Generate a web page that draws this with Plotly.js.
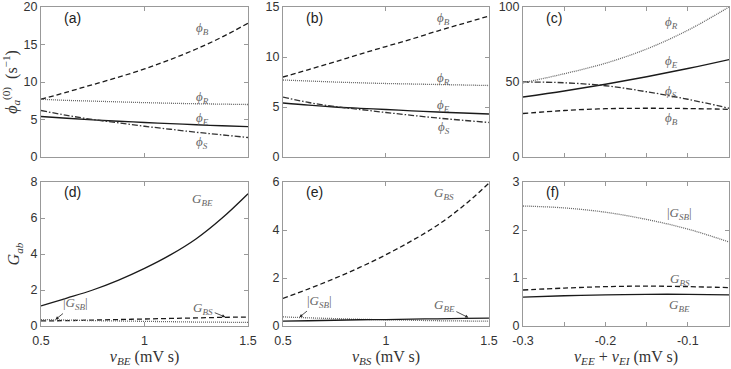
<!DOCTYPE html>
<html>
<head>
<meta charset="utf-8">
<script src="https://cdn.plot.ly/plotly-3.0.1.min.js"></script>
<style>body{margin:0;background:#fff}</style>
</head>
<body>
<div id="myDiv" style="width:731px;height:369px"></div>
<script>
// x grids
var nuBE = [0.5, 0.625, 0.75, 0.875, 1, 1.125, 1.25, 1.375, 1.5];
var nuBS = [0.5, 0.625, 0.75, 0.875, 1, 1.125, 1.25, 1.375, 1.5];
var nuEE = [-0.3, -0.25, -0.2, -0.15, -0.1, -0.05];

// (a) steady-state rates vs nu_BE
var phiB_a = [7.7, 8.65, 9.65, 10.65, 11.75, 13.0, 14.4, 16.0, 17.85];
var phiR_a = [7.7, 7.55, 7.45, 7.35, 7.25, 7.17, 7.1, 7.05, 7.0];
var phiE_a = [5.4, 5.17, 4.95, 4.77, 4.6, 4.45, 4.3, 4.17, 4.05];
var phiS_a = [6.2, 5.55, 5.0, 4.55, 4.1, 3.7, 3.3, 2.95, 2.6];

// (b) vs nu_BS
var phiB_b = [8.0, 8.75, 9.5, 10.3, 11.05, 11.8, 12.6, 13.35, 14.1];
var phiR_b = [7.7, 7.6, 7.5, 7.42, 7.35, 7.3, 7.25, 7.2, 7.15];
var phiE_b = [5.4, 5.18, 5.0, 4.87, 4.75, 4.62, 4.5, 4.4, 4.3];
var phiS_b = [6.0, 5.45, 5.05, 4.75, 4.45, 4.17, 3.9, 3.67, 3.45];

// (c) vs nu_EE + nu_EI
var phiR_c = [49.5, 55.5, 62.5, 72, 84.5, 100];
var phiE_c = [40, 44, 48.5, 53.5, 59, 65];
var phiS_c = [50, 49.5, 47.5, 43.5, 38.5, 32.5];
var phiB_c = [29, 31, 32.2, 32.5, 32.3, 31.8];

// (d) gains vs nu_BE
var GBE_d = [1.12, 1.55, 2.0, 2.55, 3.2, 3.95, 4.85, 6.0, 7.35];
var GBS_d = [0.28, 0.3, 0.33, 0.36, 0.39, 0.42, 0.45, 0.48, 0.5];
var GSB_d = [0.36, 0.33, 0.3, 0.28, 0.26, 0.24, 0.22, 0.21, 0.2];

// (e) gains vs nu_BS
var GBS_e = [1.15, 1.55, 1.98, 2.45, 2.97, 3.55, 4.2, 5.0, 5.95];
var GSB_e = [0.38, 0.34, 0.31, 0.28, 0.26, 0.24, 0.22, 0.21, 0.2];
var GBE_e = [0.2, 0.22, 0.24, 0.26, 0.27, 0.29, 0.3, 0.32, 0.33];

// (f) gains vs nu_EE + nu_EI
var GSB_f = [2.5, 2.46, 2.37, 2.22, 2.02, 1.75];
var GBS_f = [0.75, 0.79, 0.82, 0.83, 0.82, 0.80];
var GBE_f = [0.60, 0.63, 0.65, 0.66, 0.66, 0.65];

var solid = {color: '#1a1a1a', width: 1.3, dash: 'solid', shape: 'spline'};
var dashed = {color: '#1a1a1a', width: 1.3, dash: '5px,3px', shape: 'spline'};
var dotted = {color: '#666', width: 1.3, dash: '1px,1px', shape: 'spline'};
var dashdot = {color: '#333', width: 1.3, dash: '6px,2px,1.5px,2px', shape: 'spline'};

function tr(x, y, line, xa, ya) {
  return {x: x, y: y, type: 'scatter', mode: 'lines', line: line,
          xaxis: xa, yaxis: ya, showlegend: false, hoverinfo: 'skip'};
}

var data = [
  tr(nuBE, phiB_a, dashed, 'x', 'y'),
  tr(nuBE, phiR_a, dotted, 'x', 'y'),
  tr(nuBE, phiE_a, solid, 'x', 'y'),
  tr(nuBE, phiS_a, dashdot, 'x', 'y'),

  tr(nuBS, phiB_b, dashed, 'x2', 'y2'),
  tr(nuBS, phiR_b, dotted, 'x2', 'y2'),
  tr(nuBS, phiE_b, solid, 'x2', 'y2'),
  tr(nuBS, phiS_b, dashdot, 'x2', 'y2'),

  tr(nuEE, phiR_c, dotted, 'x3', 'y3'),
  tr(nuEE, phiE_c, solid, 'x3', 'y3'),
  tr(nuEE, phiS_c, dashdot, 'x3', 'y3'),
  tr(nuEE, phiB_c, dashed, 'x3', 'y3'),

  tr(nuBE, GBE_d, solid, 'x4', 'y4'),
  tr(nuBE, GBS_d, dashed, 'x4', 'y4'),
  tr(nuBE, GSB_d, dotted, 'x4', 'y4'),

  tr(nuBS, GBS_e, dashed, 'x5', 'y5'),
  tr(nuBS, GSB_e, dotted, 'x5', 'y5'),
  tr(nuBS, GBE_e, solid, 'x5', 'y5'),

  tr(nuEE, GSB_f, dotted, 'x6', 'y6'),
  tr(nuEE, GBS_f, dashed, 'x6', 'y6'),
  tr(nuEE, GBE_f, solid, 'x6', 'y6')
];

var tickFont = {family: "'Liberation Sans', Arial, sans-serif", size: 12.5, color: '#333'};
var mathFont = {family: "'Liberation Serif', 'DejaVu Serif', serif", size: 16, color: '#333'};

function ax(extra) {
  var base = {showline: true, mirror: 'ticks', linecolor: '#999', linewidth: 1,
              ticks: 'inside', ticklen: 4, tickcolor: '#999', tickwidth: 1,
              showgrid: false, zeroline: false, tickfont: tickFont, fixedrange: true,
              ticklabeloverflow: 'allow'};
  for (var k in extra) base[k] = extra[k];
  return base;
}

var colA = [0.0561, 0.3393], colB = [0.3871, 0.6689], colC = [0.7155, 0.9973];
var rowTop = [0.5745, 0.9810], rowBot = [0.1165, 0.5068];

var xBE = {range: [0.5, 1.5], tickvals: [0.5, 1, 1.5], ticktext: ['0.5', '1', '1.5'], ticklabelstandoff: 3};
var xEE = {range: [-0.3, -0.05], tickvals: [-0.3, -0.25, -0.2, -0.15, -0.1],
           ticktext: ['-0.3', '', '-0.2', '', '-0.1'], ticklabelstandoff: 3};

function merge(a, b) { var o = {}; for (var k in a) o[k] = a[k]; for (var k2 in b) o[k2] = b[k2]; return o; }

var layout = {
  width: 731, height: 369, autosize: false,
  margin: {l: 0, r: 0, t: 0, b: 0},
  paper_bgcolor: '#fff', plot_bgcolor: '#fff',
  xaxis: ax(merge(xBE, {domain: colA, anchor: 'y', showticklabels: false})),
  yaxis: ax({domain: rowTop, anchor: 'x', range: [0, 20], tickvals: [0, 5, 10, 15, 20],
             title: {text: '<i>ϕ</i><sub><i>a</i></sub><sup>(0)</sup>  (s<sup>−1</sup>)', font: mathFont, standoff: 6}}),
  xaxis2: ax(merge(xBE, {domain: colB, anchor: 'y2', showticklabels: false})),
  yaxis2: ax({domain: rowTop, anchor: 'x2', range: [0, 15], tickvals: [0, 5, 10, 15]}),
  xaxis3: ax(merge(xEE, {domain: colC, anchor: 'y3', showticklabels: false})),
  yaxis3: ax({domain: rowTop, anchor: 'x3', range: [0, 100], tickvals: [0, 50, 100]}),

  xaxis4: ax(merge(xBE, {domain: colA, anchor: 'y4',
             title: {text: '<i>ν</i><sub><i>BE</i></sub> (mV s)', font: mathFont, standoff: 0}})),
  yaxis4: ax({domain: rowBot, anchor: 'x4', range: [0, 8], tickvals: [0, 2, 4, 6, 8],
             title: {text: '<i>G</i><sub><i>ab</i></sub>', font: mathFont, standoff: 6}}),
  xaxis5: ax(merge(xBE, {domain: colB, anchor: 'y5',
             title: {text: '<i>ν</i><sub><i>BS</i></sub> (mV s)', font: mathFont, standoff: 0}})),
  yaxis5: ax({domain: rowBot, anchor: 'x5', range: [0, 6], tickvals: [0, 2, 4, 6]}),
  xaxis6: ax(merge(xEE, {domain: colC, anchor: 'y6',
             title: {text: '<i>ν</i><sub><i>EE</i></sub> + <i>ν</i><sub><i>EI</i></sub> (mV s)', font: mathFont, standoff: 0}})),
  yaxis6: ax({domain: rowBot, anchor: 'x6', range: [0, 3], tickvals: [0, 1, 2, 3]}),
  annotations: []
};

var panelFont = {family: "'Liberation Sans', Arial, sans-serif", size: 14, color: '#222'};
var lblFont = {family: "'Liberation Serif', 'DejaVu Serif', serif", size: 13, color: '#666'};

function panel(txt, xa, ya) {
  layout.annotations.push({text: txt, xref: xa + ' domain', yref: ya + ' domain',
    x: 0.1, y: 0.93, xanchor: 'left', yanchor: 'middle', showarrow: false, font: panelFont});
}
function lbl(txt, xa, ya, x, y) {
  layout.annotations.push({text: txt, xref: xa, yref: ya, x: x, y: y,
    showarrow: false, font: lblFont});
}
function arr(txt, xa, ya, x, y, dx, dy) {
  layout.annotations.push({text: txt, xref: xa, yref: ya, x: x, y: y, ax: dx, ay: dy,
    showarrow: true, arrowhead: 2, arrowsize: 0.8, arrowwidth: 0.8, arrowcolor: '#222',
    standoff: 0, font: lblFont});
}

var pB = '<i>ϕ</i><sub><i>B</i></sub>', pR = '<i>ϕ</i><sub><i>R</i></sub>';
var pE = '<i>ϕ</i><sub><i>E</i></sub>', pS = '<i>ϕ</i><sub><i>S</i></sub>';
var gBE = '<i>G</i><sub><i>BE</i></sub>', gBS = '<i>G</i><sub><i>BS</i></sub>';
var gSB = '|<i>G</i><sub><i>SB</i></sub>|';

panel('(a)', 'x', 'y');  panel('(b)', 'x2', 'y2'); panel('(c)', 'x3', 'y3');
panel('(d)', 'x4', 'y4'); panel('(e)', 'x5', 'y5'); panel('(f)', 'x6', 'y6');

lbl(pB, 'x', 'y', 1.28, 17.2); lbl(pR, 'x', 'y', 1.28, 8.0);
lbl(pE, 'x', 'y', 1.28, 5.2);  lbl(pS, 'x', 'y', 1.28, 1.9);

lbl(pB, 'x2', 'y2', 1.28, 13.9); lbl(pR, 'x2', 'y2', 1.28, 7.9);
lbl(pE, 'x2', 'y2', 1.28, 5.2);  lbl(pS, 'x2', 'y2', 1.28, 3.0);

lbl(pR, 'x3', 'y3', -0.12, 90); lbl(pE, 'x3', 'y3', -0.12, 64);
lbl(pS, 'x3', 'y3', -0.12, 44); lbl(pB, 'x3', 'y3', -0.12, 26);

lbl(gBE, 'x4', 'y4', 1.28, 7.0);
arr(gSB, 'x4', 'y4', 0.57, 0.36, 20, -16);
arr(gBS, 'x4', 'y4', 1.39, 0.5, -22, -9);

lbl(gBS, 'x5', 'y5', 1.28, 5.5);
arr(gSB, 'x5', 'y5', 0.58, 0.37, 20, -16);
arr(gBE, 'x5', 'y5', 1.4, 0.35, -24, -12);

lbl(gSB, 'x6', 'y6', -0.11, 2.35);
lbl(gBS, 'x6', 'y6', -0.11, 0.97);
lbl(gBE, 'x6', 'y6', -0.11, 0.43);

Plotly.newPlot('myDiv', data, layout, {staticPlot: true, displayModeBar: false});
</script>
</body>
</html>
